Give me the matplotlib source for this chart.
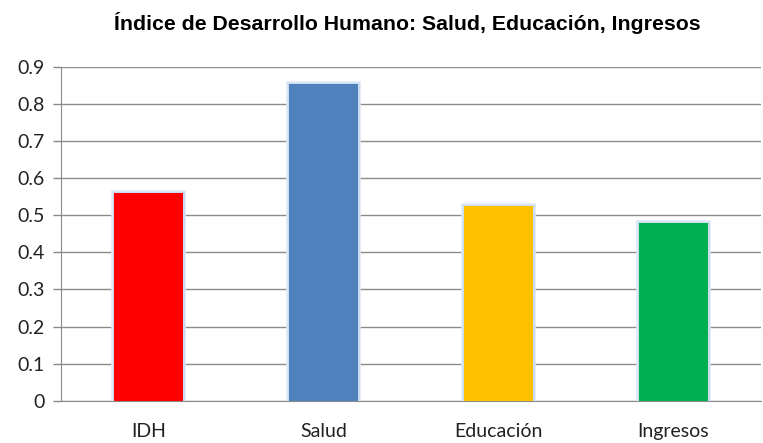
import matplotlib
matplotlib.use('Agg')
import matplotlib.pyplot as plt
import matplotlib.patheffects as pe
import numpy as np

categorias = ['IDH', 'Salud', 'Educación', 'Ingresos']
valores = [0.559, 0.855, 0.525, 0.479]
colores = ['#ff0000', '#4f81bd', '#ffc000', '#00b050']
ticks_y = [0, 0.1, 0.2, 0.3, 0.4, 0.5, 0.6, 0.7, 0.8, 0.9]
etiquetas_y = ['0', '0.1', '0.2', '0.3', '0.4', '0.5', '0.6', '0.7', '0.8', '0.9']

fig = plt.figure(figsize=(7.63, 4.43), dpi=100)
ax = fig.add_axes([0.080, 0.0955, 0.917, 0.7535])

x = np.arange(len(categorias))
barras = ax.bar(x, valores, width=0.394, color=colores, zorder=3)
# brillo azulado suave alrededor de las barras
for b in barras:
    b.set_path_effects([pe.withStroke(linewidth=4, foreground='#dde8f5'),
                        pe.withStroke(linewidth=2, foreground='#c9dbf0'), pe.Normal()])

ax.set_xlim(-0.5, 3.5)
ax.set_ylim(0, 0.9)
ax.set_yticks(ticks_y)
ax.set_yticklabels(etiquetas_y, fontfamily='Lato', fontsize=14, color='#222222')
ax.set_xticks(x)
ax.set_xticklabels(categorias, fontfamily='Lato', fontsize=14, color='#222222')
ax.tick_params(axis='x', length=0, pad=16)
ax.tick_params(axis='y', length=6, color='#888888', width=1, pad=6)

ax.grid(axis='y', color='#8c8c8c', linewidth=1, zorder=0)
for s in ['top', 'right']:
    ax.spines[s].set_visible(False)
ax.spines['left'].set_color('#8c8c8c')
ax.spines['bottom'].set_color('#8c8c8c')

fig.text(0.534, 0.948, 'Índice de Desarrollo Humano: Salud, Educación, Ingresos',
         ha='center', va='center', fontsize=15.3, fontweight='bold',
         fontfamily='Liberation Sans')

fig.savefig('out.png', dpi=100)
